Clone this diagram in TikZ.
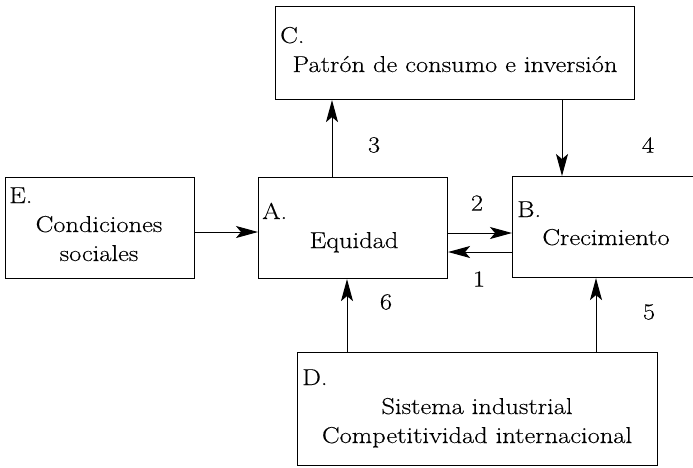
\documentclass[tikz,border=0pt]{standalone}
\usepackage{fontspec}
\setmainfont{Latin Modern Roman}[FakeStretch=1.15,FakeBold=0.3]
\usetikzlibrary{arrows.meta,calc}
\begin{document}
\begin{tikzpicture}[x=1pt,y=-1pt,
  box/.style={draw, line width=1.1pt, rectangle, anchor=north west, inner sep=0pt},
  txt/.style={font=\fontsize{23}{29}\selectfont, inner sep=0pt, align=center},
  tag/.style={font=\fontsize{23}{29}\selectfont, inner sep=0pt, anchor=base west},
  num/.style={font=\fontsize{23}{29}\selectfont, inner sep=0pt},
  arr/.style={line width=1pt, -{Stealth[length=22pt,width=12pt,inset=5pt]}}]
\useasboundingbox (0,0) rectangle (693,467);

% boxes
\node[box, minimum width=359pt, minimum height=93pt] (C) at (275,6) {};
\node[box, minimum width=189pt, minimum height=101pt] (E) at (5,177) {};
\node[box, minimum width=189pt, minimum height=101pt] (A) at (258,177) {};
\node[box, minimum width=190pt, minimum height=101pt] (B) at (512,176) {};
\node[box, minimum width=360pt, minimum height=113pt] (D) at (297,352) {};

% letters
\node[tag] (Ct) at (280,43) {C.};
\node[tag] (Et) at (9,203) {E.};
\node[tag] (At) at (262,219) {A.};
\node[tag] (Bt) at (517,217) {B.};
\node[tag] (Dt) at (302,385) {D.};

% titles (base anchor of a two-line node sits on its last line)
\node[txt, anchor=base] (Cx) at (455,72) {Patrón de consumo e inversión};
\node[txt, anchor=base] (Ex) at (99,261) {Condiciones\\sociales};
\node[txt, anchor=base] (Ax) at (354,248) {Equidad};
\node[txt, anchor=base] (Bx) at (606,245) {Crecimiento};
\node[txt, anchor=base] (Dx) at (477,443) {Sistema industrial\\Competitividad internacional};

% numbers
\node[num] (n1) at (479,279) {1};
\node[num] (n2) at (477,203) {2};
\node[num] (n3) at (374,145) {3};
\node[num] (n4) at (648,145) {4};
\node[num] (n5) at (649,312) {5};
\node[num] (n6) at (386,302) {6};

% connectors
\draw[arr] ([xshift=74pt]A.north west) -- ([xshift=74pt]A.north west |- C.south);
\draw[arr] ([xshift=50pt]B.north west |- C.south) -- ([xshift=50pt]B.north west);
\draw[arr] ([yshift=-55pt]E.north east) -- ([yshift=-55pt]E.north east -| A.west);
\draw[arr] ([yshift=-56pt]A.north east) -- ([yshift=-56pt]A.north east -| B.west);
\draw[arr] ([yshift=-75pt]A.north east -| B.west) -- ([yshift=-75pt]A.north east);
\draw[arr] ([xshift=89pt]A.south west |- D.north) -- ([xshift=89pt]A.south west);
\draw[arr] ([xshift=84pt]B.south west |- D.north) -- ([xshift=84pt]B.south west);
\end{tikzpicture}
\end{document}
